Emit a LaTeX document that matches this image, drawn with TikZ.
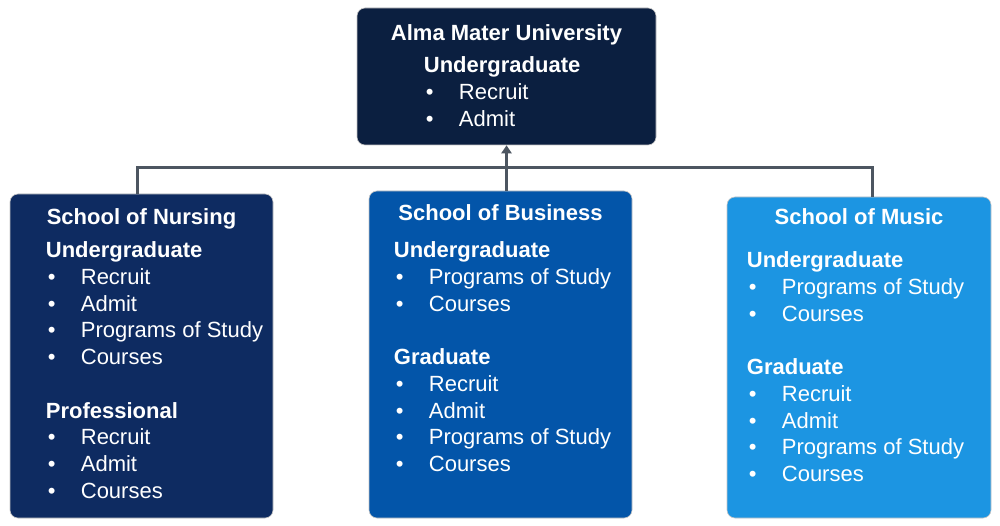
\documentclass[tikz,border=0pt]{standalone}
\usepackage{fontspec}
\setmainfont{Liberation Sans}
\usetikzlibrary{positioning,arrows.meta}
\definecolor{almablue}{HTML}{0B1F40}
\definecolor{nursingblue}{HTML}{0E2B61}
\definecolor{businessblue}{HTML}{0355A9}
\definecolor{musicblue}{HTML}{1C95E2}
\definecolor{linkgray}{HTML}{4D5661}
\newcommand{\itm}[1]{\makebox[35pt][l]{\hspace{2pt}\textbullet}#1}
\tikzset{
  unit/.style={ % image of one unit of the university
    rectangle, rounded corners=8pt, draw=gray!45, line width=0.6pt,
    inner sep=0pt
  },
  title/.style={ % bold name on top of a unit
    inner sep=0pt, text=white, font=\fontsize{22}{26.7}\selectfont\bfseries
  },
  body/.style={ % list of tasks inside a unit
    inner sep=0pt, text=white, align=left,
    font=\fontsize{22}{26.7}\selectfont
  },
  link/.style={
    draw=linkgray, line width=3pt
  }
}
\begin{document}
\begin{tikzpicture}[x=1pt,y=-1pt]
  \useasboundingbox[fill=white] (0,0) rectangle (1000,526);

  \node[unit,fill=almablue,minimum width=299pt,minimum height=137pt] (alma) at (506.5,76.5) {};
  \node[unit,fill=nursingblue,minimum width=263pt,minimum height=324pt] (nursing) at (141.5,356) {};
  \node[unit,fill=businessblue,minimum width=263pt,minimum height=327pt] (business) at (500.5,354.5) {};
  \node[unit,fill=musicblue,minimum width=264pt,minimum height=321pt] (music) at (859,357.5) {};

  \node[title] (alma_title) [below=16.5pt of alma.north] {Alma Mater University};
  \node[title] (nursing_title) [below=14.5pt of nursing.north] {School of Nursing};
  \node[title] (business_title) [below=13.5pt of business.north] {School of Business};
  \node[title] (music_title) [below=11.5pt of music.north] {School of Music};

  \node[body] (alma_text) [below right=49pt and 67pt of alma.north west]
    {\textbf{Undergraduate}\\ \itm{Recruit}\\ \itm{Admit}};
  \node[body] (nursing_text) [below right=48pt and 36pt of nursing.north west]
    {\textbf{Undergraduate}\\ \itm{Recruit}\\ \itm{Admit}\\ \itm{Programs of Study}\\ \itm{Courses}\\ \mbox{}\\
     \textbf{Professional}\\ \itm{Recruit}\\ \itm{Admit}\\ \itm{Courses}};
  \node[body] (business_text) [below right=51pt and 25pt of business.north west]
    {\textbf{Undergraduate}\\ \itm{Programs of Study}\\ \itm{Courses}\\ \mbox{}\\
     \textbf{Graduate}\\ \itm{Recruit}\\ \itm{Admit}\\ \itm{Programs of Study}\\ \itm{Courses}};
  \node[body] (music_text) [below right=55pt and 20pt of music.north west]
    {\textbf{Undergraduate}\\ \itm{Programs of Study}\\ \itm{Courses}\\ \mbox{}\\
     \textbf{Graduate}\\ \itm{Recruit}\\ \itm{Admit}\\ \itm{Programs of Study}\\ \itm{Courses}};

  % tree of links up to the university
  \coordinate (hub) at (alma.south |- 0,168);
  \draw[link] ([xshift=-4.5pt]nursing.north) |- (hub) -| ([xshift=13pt]music.north);
  \draw[link,-{Triangle[width=10pt,length=8pt]}] (alma.south |- business.north) -- (alma.south);
\end{tikzpicture}
\end{document}
